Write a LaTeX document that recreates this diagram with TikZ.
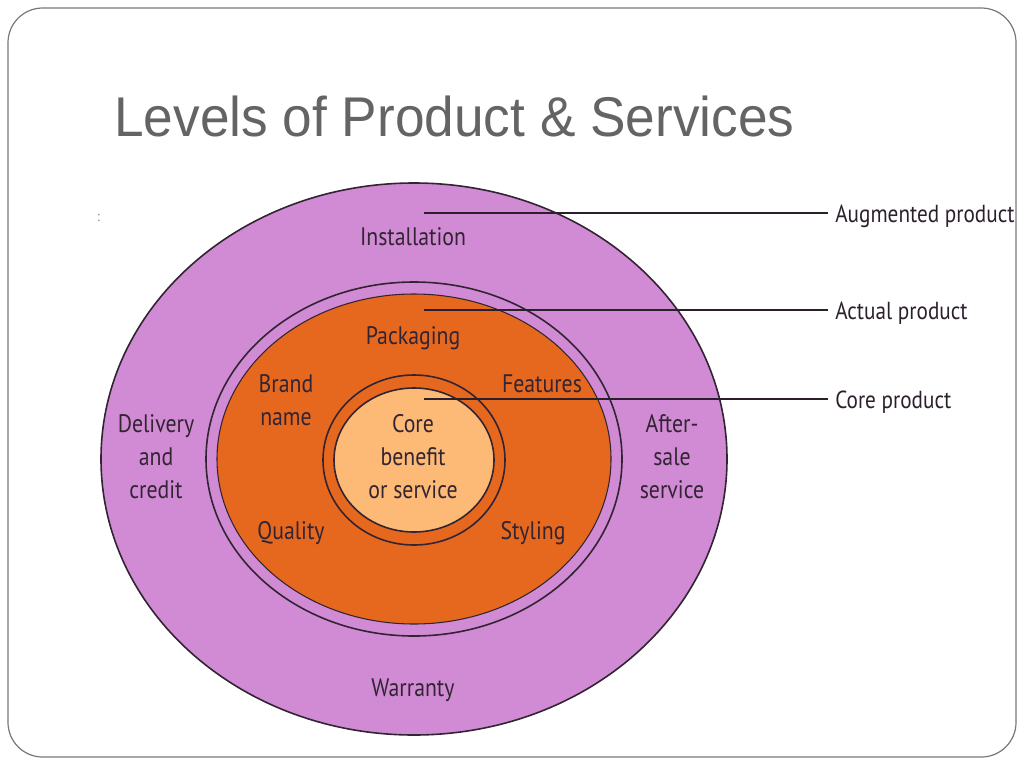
\documentclass[tikz,border=0pt]{standalone}
\usepackage{fontspec}
\setmainfont{Liberation Sans}
\newfontfamily\titlefont[FakeStretch=0.95]{Liberation Sans}
\newfontfamily\dinfont[FakeStretch=0.86]{PT Sans}
\definecolor{lilac}{RGB}{209,139,212}
\definecolor{orng}{RGB}{230,104,30}
\definecolor{peach}{RGB}{252,186,118}
\definecolor{ink}{RGB}{50,36,50}
\definecolor{titlegray}{RGB}{100,100,100}
\definecolor{framegray}{RGB}{120,120,120}
\tikzset{
  ring/.style={draw=ink, line width=1.2pt},
  lbl/.style={font=\dinfont\fontsize{19}{24.8}\selectfont, text=ink, align=center, inner sep=0pt},
  side/.style={font=\dinfont\fontsize{18.5}{22}\selectfont, text=ink!90!black, anchor=west, inner sep=0pt},
  leader/.style={draw=ink!85!black, line width=1.1pt},
}
\begin{document}
\begin{tikzpicture}[x=0.75pt,y=-0.75pt]
\useasboundingbox (0,0) rectangle (1024,768);
\fill[white] (0,0) rectangle (1024,768);
\draw[framegray, line width=0.9pt, rounded corners=26pt] (8,8) rectangle (1016,757);
\node[font=\titlefont\fontsize{42}{46}\selectfont, text=titlegray, anchor=base west, inner sep=0pt] (title) at (114,136) {Levels of Product \& Services};
\node[text=gray, font=\fontsize{10}{11}\selectfont, inner sep=0pt] (colon) at (99,218) {:};
% ellipses
\filldraw[ring, fill=lilac] (414,459) ellipse [x radius=313, y radius=276];
\draw[ring] (414,459) ellipse [x radius=208, y radius=177];
\fill[orng] (414,459) ellipse [x radius=197, y radius=165];
\draw[ring, line width=0.8pt] (414,459) ellipse [x radius=197, y radius=165];
\draw[ring] (414,460) ellipse [x radius=91, y radius=85];
\filldraw[ring, fill=peach] (414,460) ellipse [x radius=80, y radius=72];
% texts
\node[lbl] (inst) at (413,237) {Installation};
\node[lbl] (pack) at (413,338) {Packaging};
\node[lbl] (brand) at (286,400) {Brand\\name};
\node[lbl] (feat) at (542,384) {Features};
\node[lbl] (deliv) at (156,457) {Delivery\\and\\credit};
\node[lbl] (after) at (672,457) {After-\\sale\\service};
\node[lbl] (core) at (413,457) {Core\\benefit\\or service};
\node[lbl] (qual) at (291,533) {Quality};
\node[lbl] (styl) at (533,533) {Styling};
\node[lbl] (warr) at (413,690) {Warranty};
% side labels and leaders
\node[side] (aug) at (835,216) {Augmented product};
\node[side] (act) at (835,313) {Actual product};
\node[side] (corep) at (835,402) {Core product};
\coordinate (a0) at (424,213);
\coordinate (b0) at (424,310);
\coordinate (c0) at (424,399);
\draw[leader] (a0) -- ([xshift=-5pt]a0 -| aug.west);
\draw[leader] (b0) -- ([xshift=-5pt]b0 -| act.west);
\draw[leader] (c0) -- ([xshift=-5pt]c0 -| corep.west);
\end{tikzpicture}
\end{document}
